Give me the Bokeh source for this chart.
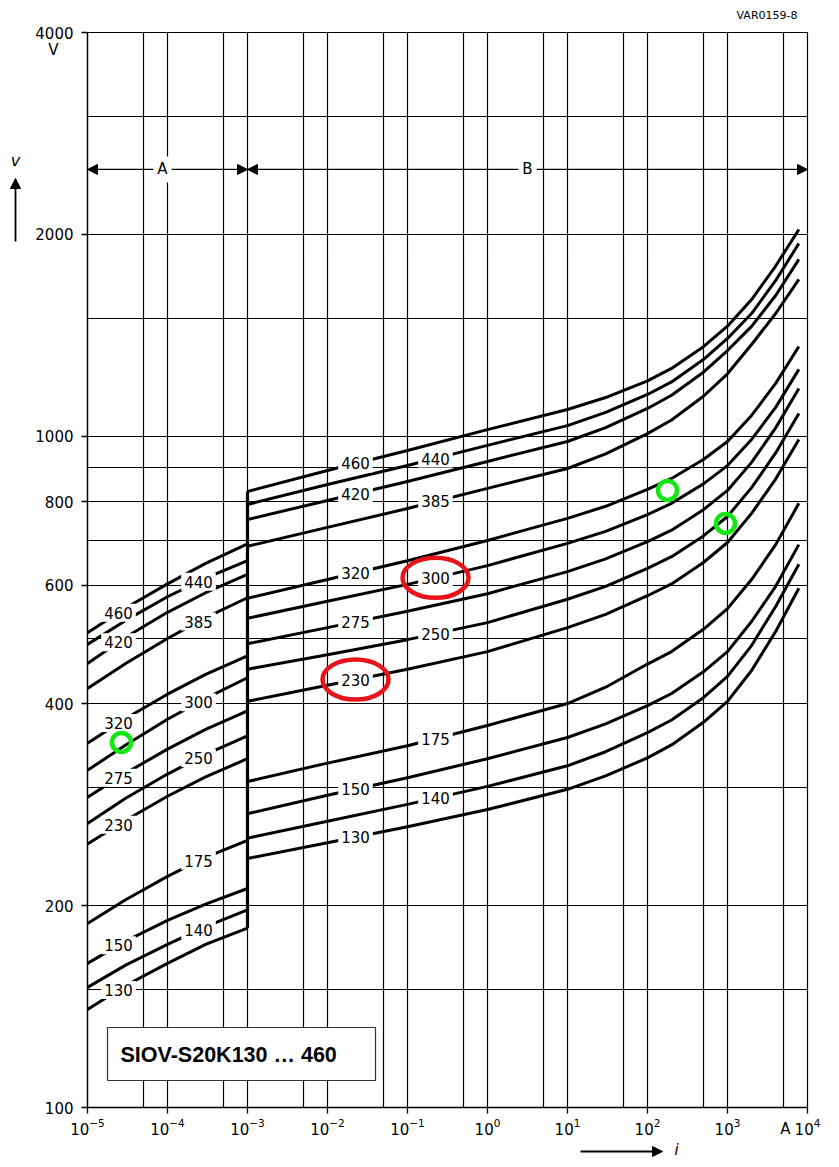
import numpy as np
from bokeh.plotting import figure
from bokeh.models import (Range1d, FixedTicker, Label, Arrow, NormalHead, Grid,
                          NumeralTickFormatter, LogTickFormatter)
from bokeh.embed import file_html
from bokeh.resources import INLINE

# ---------------- data ----------------
ratings = [460, 440, 420, 385, 320, 300, 275, 250, 230, 175, 150, 140, 130]

# region A: leakage current range (1e-5 ... 1e-3 A)
i_A = [1e-5, 3e-5, 1e-4, 3e-4, 1e-3]
A_460 = [510, 555, 603, 647, 692]
A_440 = [490, 532, 577, 615, 653]
A_420 = [459, 502, 547, 585, 623]
A_385 = [421, 459, 500, 537, 575]
A_320 = [349, 380, 413, 442, 471]
A_300 = [318, 347, 379, 407, 437]
A_275 = [290, 315, 342, 366, 390]
A_250 = [265, 289, 314, 336, 358]
A_230 = [247, 268, 291, 311, 331]
A_175 = [188, 204, 221, 236, 250]
A_150 = [164, 177, 190, 201, 212]
A_140 = [151, 163, 175, 186, 197]
A_130 = [140, 152, 164, 175, 185]

# region B: protection level range (1e-3 ... ~8e3 A)
i_B = [1e-3, 1e-2, 1e-1, 1, 10, 30, 100, 200, 500, 1000, 2000, 4000, 7800]
B_460 = [828, 890, 953, 1024, 1097, 1143, 1210, 1263, 1361, 1460, 1600, 1795, 2035]
B_440 = [792, 848, 905, 970, 1038, 1086, 1155, 1206, 1302, 1400, 1525, 1708, 1939]
B_420 = [752, 803, 857, 918, 983, 1031, 1101, 1152, 1247, 1343, 1459, 1622, 1836]
B_385 = [686, 732, 781, 837, 896, 942, 1010, 1058, 1148, 1240, 1371, 1525, 1714]
B_320 = [574, 612, 653, 700, 755, 787, 834, 866, 924, 983, 1075, 1200, 1362]
B_300 = [536, 568, 602, 642, 693, 722, 765, 795, 850, 905, 990, 1105, 1259]
B_275 = [491, 519, 549, 583, 629, 657, 697, 725, 778, 831, 915, 1030, 1179]
B_250 = [450, 473, 498, 528, 572, 598, 636, 662, 711, 760, 839, 945, 1082]
B_230 = [403, 426, 450, 478, 519, 543, 579, 603, 649, 695, 768, 864, 990]
B_175 = [306, 326, 346, 371, 400, 423, 458, 478, 516, 554, 612, 690, 795]
B_150 = [274, 292, 310, 331, 356, 373, 397, 414, 446, 478, 530, 598, 690]
B_140 = [252, 267, 283, 301, 323, 339, 362, 378, 408, 439, 488, 558, 645]
B_130 = [235, 248, 262, 278, 298, 312, 332, 347, 375, 403, 448, 512, 594]

x_ticks = [1e-5, 1e-4, 1e-3, 1e-2, 1e-1, 1, 10, 100, 1000, 10000]
y_ticks = [100, 200, 400, 600, 800, 1000, 2000, 4000]
x_grid = [1e-5, 5e-5, 1e-4, 5e-4, 1e-3, 5e-3, 1e-2, 5e-2, 1e-1, 5e-1, 1, 5,
          10, 50, 100, 500, 1000, 5000, 10000]
y_grid = [100, 150, 200, 300, 400, 500, 600, 700, 800, 900, 1000, 1500,
          2000, 3000, 4000]
region_boundary_i = 1e-3
region_arrow_v = 2500
highlight_i = [2.66e-5, 178, 944]
highlight_v = [350, 831, 742]
circled_B_labels = [300, 230]
title = "SIOV-S20K130 \u2026 460"

A_curves = [A_460, A_440, A_420, A_385, A_320, A_300, A_275, A_250, A_230,
            A_175, A_150, A_140, A_130]
B_curves = [B_460, B_440, B_420, B_385, B_320, B_300, B_275, B_250, B_230,
            B_175, B_150, B_140, B_130]

# ---------------- layout ----------------
X0, X1, Y0, Y1 = 1e-5, 1e4, 100, 4000      # chart box in data units
BL, BT, BR, BB = 87, 32, 807, 1107          # chart box in page pixels
W, H = 836, 1162                            # canvas (= frame) size
LX0, LX1, LY0, LY1 = np.log10([X0, X1, Y0, Y1])
kx = (BR - BL) / (LX1 - LX0)
ky = (BB - BT) / (LY1 - LY0)


def pos(px, py):
    """page pixel -> data coordinates"""
    return 10 ** (LX0 + (px - BL) / kx), 10 ** (LY0 + (BB - py) / ky)


xr0, yr1 = pos(0, 0)
xr1, yr0 = pos(W, H)

p = figure(x_axis_type="log", y_axis_type="log",
           x_range=Range1d(xr0, xr1), y_range=Range1d(yr0, yr1),
           frame_width=W, frame_height=H, min_border=0, title=None,
           output_backend="svg", toolbar_location=None)
p.background_fill_color = "white"
p.border_fill_color = "white"
p.outline_line_color = None


def on_curve(xs, ys, x):
    return 10 ** np.interp(np.log10(x), np.log10(xs), np.log10(ys))


# grid (limited to the chart box)
grid_style = dict(grid_line_color="black", grid_line_width=1.2, grid_line_alpha=1.0)
if "cross_bounds" in Grid.properties():
    p.xgrid.ticker = FixedTicker(ticks=x_grid)
    p.ygrid.ticker = FixedTicker(ticks=y_grid)
    p.xgrid.bounds = (X0, X1)
    p.ygrid.bounds = (Y0, Y1)
    p.xgrid.cross_bounds = (Y0, Y1)
    p.ygrid.cross_bounds = (X0, X1)
    for g in (p.xgrid, p.ygrid):
        for k, v in grid_style.items():
            setattr(g, k, v)
else:
    p.xgrid.visible = False
    p.ygrid.visible = False
    p.segment(x0=x_grid, x1=x_grid, y0=[Y0] * len(x_grid), y1=[Y1] * len(x_grid),
              line_color="black", line_width=1.2)
    p.segment(x0=[X0] * len(y_grid), x1=[X1] * len(y_grid), y0=y_grid, y1=y_grid,
              line_color="black", line_width=1.2)

# axes, pinned to the chart box edges
p.xaxis.fixed_location = Y0
p.yaxis.fixed_location = X0
p.xaxis.bounds = (X0, X1)
p.yaxis.bounds = (Y0, Y1)
p.xaxis.ticker = FixedTicker(ticks=x_ticks)
p.xaxis.formatter = LogTickFormatter()
p.yaxis.ticker = FixedTicker(ticks=y_ticks)
p.yaxis.formatter = NumeralTickFormatter(format="0")
for ax in (p.xaxis, p.yaxis):
    ax.axis_line_color = "black"
    ax.axis_line_width = 1.3
    ax.major_tick_line_color = "black"
    ax.major_tick_line_width = 1.3
    ax.major_tick_in = 0
    ax.major_tick_out = 6
    ax.minor_tick_line_color = None
    ax.major_label_text_font = "DejaVu Sans"
    ax.major_label_text_font_size = "15px"
    ax.major_label_text_color = "black"
p.xaxis.major_label_standoff = 4
p.yaxis.major_label_standoff = 8


def label(x, y, text, size="15px", align="center", bg=None, style="normal",
          font="DejaVu Sans", pad=3):
    kw = dict(x=x, y=y, text=text, text_font=font, text_font_size=size,
              text_font_style=style, text_color="black", text_align=align,
              text_baseline="middle")
    if bg is not None:
        kw.update(background_fill_color=bg, padding=pad)
    p.add_layout(Label(**kw))


# curves
lab_A_i = [pos(118, 0)[0], pos(198, 0)[0]]
lab_B_i = [pos(355, 0)[0], pos(435, 0)[0]]
for k, r in enumerate(ratings):
    p.line(i_A, A_curves[k], line_width=3, line_color="black", line_join="round")
    p.line(i_B, B_curves[k], line_width=3, line_color="black", line_join="round")
    xa = lab_A_i[k % 2]
    xb = lab_B_i[k % 2]
    label(xa, on_curve(i_A, A_curves[k], xa), str(r), bg="white")
    label(xb, on_curve(i_B, B_curves[k], xb), str(r), bg="white")
    if r in circled_B_labels:
        p.ellipse(x=[xb], y=[on_curve(i_B, B_curves[k], xb)], width=66, height=40,
                  width_units="screen", height_units="screen", fill_color=None,
                  line_color="#e8141b", line_width=4.5, level="overlay")

# vertical jump at the region boundary
p.segment(x0=[region_boundary_i], x1=[region_boundary_i],
          y0=[min(c[-1] for c in A_curves)], y1=[max(c[0] for c in B_curves)],
          line_width=3.2, line_color="black")

# highlight circles
p.scatter(highlight_i, highlight_v, marker="circle", size=19, fill_color=None,
          line_color="#14e614", line_width=4.5, level="overlay")


def head():
    return NormalHead(size=10, fill_color="black", line_color="black", line_width=1)


# region arrows A and B
for (xs, xe) in ((X0, region_boundary_i), (region_boundary_i, X1)):
    p.add_layout(Arrow(start=head(), end=head(),
                       x_start=xs, y_start=region_arrow_v, x_end=xe, y_end=region_arrow_v,
                       line_width=1.3, line_color="black"))
label(pos(162, 0)[0], region_arrow_v, "A", bg="white", pad=4)
label(pos(527, 0)[0], region_arrow_v, "B", bg="white", pad=4)

# title box
bx0, by0 = pos(107, 1080)
bx1, by1 = pos(375, 1027)
p.quad(left=[bx0], right=[bx1], bottom=[by0], top=[by1], fill_color="white",
       line_color="#333333", line_width=1.2)
label(*pos(120, 1054), title, size="21.5px", align="left", style="bold",
      font="Liberation Sans")

# unit / axis annotations
label(*pos(53, 49), "V")
label(*pos(785, 1128), "A")
label(*pos(15, 160), "v", size="16px", style="italic")
a0 = pos(15, 241)
a1 = pos(15, 178)
p.add_layout(Arrow(end=head(), x_start=a0[0], y_start=a0[1], x_end=a1[0], y_end=a1[1],
                   line_width=1.8, line_color="black"))
label(*pos(676, 1149), "i", size="15px", style="italic")
b0 = pos(580, 1151)
b1 = pos(662, 1151)
p.add_layout(Arrow(end=head(), x_start=b0[0], y_start=b0[1], x_end=b1[0], y_end=b1[1],
                   line_width=1.8, line_color="black"))
label(*pos(797, 15), "VAR0159-8", size="11px", align="right")

open("out.html", "w").write(file_html(p, INLINE))
